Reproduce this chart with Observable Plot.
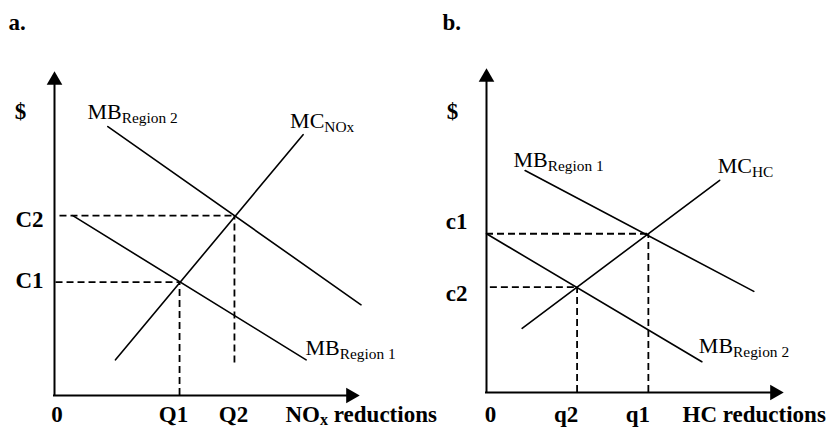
<!DOCTYPE html>
<html>
<head>
<meta charset="utf-8">
<script src="https://cdn.jsdelivr.net/npm/d3@7"></script>
<script src="https://cdn.jsdelivr.net/npm/@observablehq/plot@0.6"></script>
<style>
  html, body { margin: 0; padding: 0; background: #fff; }
  #wrap { display: flex; width: 834px; height: 427px; overflow: hidden; background: #fff; }
  #wrap svg { flex: none; }
  svg text { white-space: pre; }
</style>
</head>
<body>
<div id="wrap"></div>
<script>
// ---------------- Panel a: NOx ----------------
const noxQtyLabels = ["0", "Q1", "Q2"];
const noxQtyValues = [0, 4.1, 5.9];
const noxCostLabels = ["C1", "C2"];
const noxCostValues = [3.5, 5.55];
// dashed guides: equilibrium (Q, C) pairs and where the dashes start / stop
const noxGuideQ = [4.1, 5.9];
const noxGuideC = [3.5, 5.55];
const noxGuideStartX = [0.05, 0.18];
const noxGuideEndY = [0, 1.0];
// curves (end points)
const noxMCx = [2.0, 8.15],   noxMCy = [1.1, 8.05];
const noxMB2x = [1.75, 10.05], noxMB2y = [8.3, 2.8];
const noxMB1x = [0.6, 8.25],  noxMB1y = [5.55, 1.1];

// ---------------- Panel b: HC ----------------
const hcQtyLabels = ["0", "q2", "q1"];
const hcQtyValues = [0, 3.05, 5.45];
const hcCostLabels = ["c1", "c2"];
const hcCostValues = [4.9, 3.25];
const hcGuideQ = [5.45, 3.05];
const hcGuideC = [4.9, 3.25];
const hcGuideStartX = [0, 0.13];
const hcGuideEndY = [0, 0];
const hcMCx = [1.2, 7.85],  hcMCy = [1.98, 6.55];
const hcMB1x = [1.3, 9.0],  hcMB1y = [6.85, 3.12];
const hcMB2x = [0, 7.25],   hcMB2y = [4.9, 0.95];

const FONT = "'Liberation Serif','Times New Roman',Times,serif";
const pts = (xs, ys) => xs.map((x, i) => ({x, y: ys[i]}));

function buildPanel(cfg) {
  const L = cfg.layout;
  const marks = [];
  // axes with filled arrow heads
  marks.push(Plot.ruleX([{x: 0}], {x: "x", y1: 0, y2: 9.7, stroke: "black", strokeWidth: 2, strokeLinecap: "square"}));
  marks.push(Plot.ruleY([{y: 0}], {y: "y", x1: 0, x2: 9.7, stroke: "black", strokeWidth: 2, strokeLinecap: "square"}));
  marks.push(Plot.dot([{x: 0, y: 10}], {x: "x", y: "y", symbol: "triangle", r: 5.8, fill: "black", stroke: "none", dy: 8.8}));
  marks.push(Plot.dot([{x: 10, y: 0}], {x: "x", y: "y", symbol: "triangle", r: 5.8, fill: "black", stroke: "none", rotate: 90, dx: -8.8}));

  // dashed guides
  const guides = cfg.guideQ.map((q, i) => ({q, c: cfg.guideC[i], x0: cfg.guideStartX[i], y0: cfg.guideEndY[i]}));
  marks.push(Plot.ruleY(guides, {y: "c", x1: "x0", x2: "q", stroke: "black", strokeWidth: 1.8, strokeDasharray: "7,4"}));
  marks.push(Plot.ruleX(guides, {x: "q", y1: "y0", y2: "c", stroke: "black", strokeWidth: 1.8, strokeDasharray: "7,4"}));

  // curves + labels ("main|sub" is split into a subscript after rendering)
  cfg.curves.forEach((c) => {
    const p = pts(c.xs, c.ys);
    marks.push(Plot.line(p, {x: "x", y: "y", stroke: "black", strokeWidth: 1.6}));
    const anchor = c.at === "start" ? p[0] : p[p.length - 1];
    marks.push(Plot.text([anchor], {
      x: "x", y: "y", text: () => `${c.main}|${c.sub}`, textAnchor: "start", lineAnchor: "bottom",
      dx: c.dx, dy: c.dy, fontSize: 22, fill: "black"
    }));
  });

  // quantity tick labels
  cfg.qtyLabels.forEach((lab, i) => {
    marks.push(Plot.text([{x: cfg.qtyValues[i], y: 0}], {
      x: "x", y: "y", text: () => lab, textAnchor: "middle", lineAnchor: "bottom",
      dx: L.qtyDx[lab], dy: L.qtyDy, fontSize: 23, fontWeight: "bold", fill: "black"
    }));
  });
  // x axis title
  marks.push(Plot.text([{x: 10, y: 0}], {
    x: "x", y: "y", text: () => cfg.xTitle, textAnchor: "start", lineAnchor: "bottom",
    dx: L.xTitleDx, dy: L.qtyDy, fontSize: 23, fontWeight: "bold", fill: "black"
  }));
  // cost tick labels
  cfg.costLabels.forEach((lab, i) => {
    marks.push(Plot.text([{x: 0, y: cfg.costValues[i]}], {
      x: "x", y: "y", text: () => lab, textAnchor: "end", lineAnchor: "bottom",
      dx: L.costDx, dy: L.costDy[lab], fontSize: 23, fontWeight: "bold", fill: "black"
    }));
  });
  // "$" axis title
  marks.push(Plot.text([{x: 0, y: 10}], {
    x: "x", y: "y", text: () => "$", textAnchor: "middle", lineAnchor: "bottom",
    dx: L.dollarDx, dy: L.dollarDy, fontSize: 23, fontWeight: "bold", fill: "black"
  }));
  // panel letter
  marks.push(Plot.text([{x: 0, y: 10}], {
    x: "x", y: "y", text: () => cfg.title, textAnchor: "start", lineAnchor: "bottom",
    dx: L.titleDx, dy: L.titleDy, fontSize: 23, fontWeight: "bold", fill: "black"
  }));

  const svg = Plot.plot({
    width: L.width, height: 427,
    marginLeft: L.ml, marginRight: L.mr, marginTop: L.mt, marginBottom: L.mb,
    x: {domain: [0, 10], axis: null},
    y: {domain: [0, 10], axis: null},
    style: {fontFamily: FONT, background: "none", color: "black", overflow: "visible"},
    marks
  });

  // turn "main|sub|rest" into real text with a subscript tspan
  const NS = "http://www.w3.org/2000/svg";
  svg.querySelectorAll("text").forEach(t => {
    const s = t.textContent;
    if (!s.includes("|")) return;
    const [main, sub, rest] = s.split("|");
    const g = t.parentNode;
    const mainSize = parseFloat(g.getAttribute("font-size") || t.getAttribute("font-size") || 22);
    const shift = rest ? 3 : 4;
    t.textContent = main;
    const ts = document.createElementNS(NS, "tspan");
    ts.setAttribute("dy", shift);
    ts.setAttribute("font-size", Math.round(mainSize * 0.7 * 10) / 10);
    ts.textContent = sub;
    t.appendChild(ts);
    if (rest) {
      const tr = document.createElementNS(NS, "tspan");
      tr.setAttribute("dy", -shift);
      tr.setAttribute("font-size", mainSize);
      tr.textContent = rest;
      t.appendChild(tr);
    }
  });
  return svg;
}

const panelA = buildPanel({
  id: "a", title: "a.",
  qtyLabels: noxQtyLabels, qtyValues: noxQtyValues,
  costLabels: noxCostLabels, costValues: noxCostValues,
  guideQ: noxGuideQ, guideC: noxGuideC, guideStartX: noxGuideStartX, guideEndY: noxGuideEndY,
  xTitle: "NO|x| reductions",
  curves: [
    {main: "MB", sub: "Region 2", xs: noxMB2x, ys: noxMB2y, at: "start", dx: -20.4, dy: -8},
    {main: "MC", sub: "NOx", xs: noxMCx, ys: noxMCy, at: "end", dx: -13, dy: -7},
    {main: "MB", sub: "Region 1", xs: noxMB1x, ys: noxMB1y, at: "end", dx: -0.6, dy: -4.4}
  ],
  layout: {
    width: 441, ml: 54, mr: 82, mt: 71, mb: 32,
    qtyDx: {"0": 2.5, "Q1": -6, "Q2": -1}, qtyDy: 26.5,
    xTitleDx: -74,
    costDx: -11, costDy: {"C1": 5.4, "C2": 11.8},
    dollarDx: -34, dollarDy: 47,
    titleDx: -46, titleDy: -42
  }
});

const panelB = buildPanel({
  id: "b", title: "b.",
  qtyLabels: hcQtyLabels, qtyValues: hcQtyValues,
  costLabels: hcCostLabels, costValues: hcCostValues,
  guideQ: hcGuideQ, guideC: hcGuideC, guideStartX: hcGuideStartX, guideEndY: hcGuideEndY,
  xTitle: "HC reductions",
  curves: [
    {main: "MB", sub: "Region 1", xs: hcMB1x, ys: hcMB1y, at: "start", dx: -11.6, dy: -4},
    {main: "MC", sub: "HC", xs: hcMCx, ys: hcMCy, at: "end", dx: -2, dy: -7},
    {main: "MB", sub: "Region 2", xs: hcMB2x, ys: hcMB2y, at: "end", dx: -3, dy: -9}
  ],
  layout: {
    width: 393, ml: 45, mr: 51, mt: 68, mb: 35,
    qtyDx: {"0": 4, "q2": -11, "q1": -10.4}, qtyDy: 29.5,
    xTitleDx: -101,
    costDx: -19, costDy: {"c1": -5.2, "c2": 13.3},
    dollarDx: -34, dollarDy: 50,
    titleDx: -44, titleDy: -39
  }
});

const wrap = document.getElementById("wrap");
wrap.appendChild(panelA);
wrap.appendChild(panelB);
</script>
</body>
</html>
